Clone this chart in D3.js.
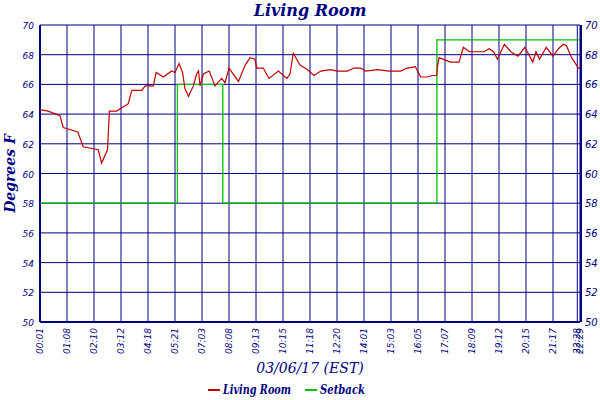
<!DOCTYPE html>
<html><head><meta charset="utf-8">
<script src="https://cdn.jsdelivr.net/npm/d3@7"></script>
<style>body{margin:0;background:#fff}text{font-family:"DejaVu Sans",sans-serif;font-style:italic;fill:#000080}</style>
</head><body><svg id="c" width="600" height="400"></svg>
<script>
const tickLabels=["00:01","01:08","02:10","03:12","04:18","05:21","07:03","08:08","09:13","10:15","11:18","12:20","14:01","15:03","16:05","17:07","18:09","19:12","20:15","21:17","22:28","22:29"];
const tickPos=[0,1,2,3,4,5,6,7,8,9,10,11,12,13,14,15,16,17,18,19,19.9,20];
const yTicks=[50,52,54,56,58,60,62,64,66,68,70];
// sample position (in tick-interval units) and temperature
const roomX=[0,0.3,0.74,0.86,1.4,1.6,2.16,2.28,2.5,2.57,2.84,3.27,3.4,3.77,3.9,4.2,4.3,4.57,4.88,5.0,5.15,5.28,5.37,5.5,5.68,5.8,5.87,5.93,6.05,6.27,6.48,6.73,6.85,7.0,7.35,7.6,7.78,7.96,8.03,8.27,8.48,8.83,9.14,9.26,9.38,9.63,9.9,10.15,10.4,10.77,11.0,11.38,11.63,11.88,12.06,12.5,12.93,13.36,13.6,13.9,14.1,14.35,14.53,14.69,14.72,14.78,15.2,15.52,15.68,15.9,16.45,16.63,16.8,16.94,17.2,17.44,17.7,17.96,18.25,18.37,18.5,18.75,19.0,19.2,19.38,19.5,19.69,19.8,19.94,20.0];
const roomY=[64.3,64.2,63.9,63.1,62.8,61.8,61.6,60.7,61.6,64.2,64.2,64.7,65.6,65.6,65.9,65.9,66.8,66.5,66.9,66.8,67.4,66.8,65.7,65.2,65.9,66.7,66.9,65.9,66.7,66.9,65.9,66.4,66.1,67.1,66.2,67.3,67.8,67.7,67.1,67.1,66.4,66.9,66.4,66.7,68.1,67.3,67.0,66.6,66.9,67.0,66.9,66.9,67.1,67.1,66.9,67.0,66.9,66.9,67.1,67.2,66.5,66.5,66.6,66.6,67.2,67.8,67.5,67.5,68.5,68.2,68.2,68.4,68.2,67.7,68.7,68.2,67.9,68.5,67.5,68.2,67.7,68.5,67.9,68.4,68.7,68.6,67.8,67.5,67.1,67.1];
const setX=[0,5.09,6.77,14.7,20];
const setY=[58,66,58,69,69];

const svg=d3.select("#c");
const L=40,R=580,T=25,B=322;
const x=d3.scaleLinear().domain([0,20]).range([L,R]);
const y=d3.scaleLinear().domain([50,70]).range([B,T]);
const navy="#000080";
const g=svg.append("g");
g.selectAll(".vg").data(tickPos).join("line").attr("x1",d=>x(d)).attr("x2",d=>x(d)).attr("y1",T).attr("y2",B).attr("stroke",navy).attr("stroke-width",1);
g.selectAll(".hg").data(yTicks).join("line").attr("x1",L).attr("x2",R).attr("y1",d=>y(d)).attr("y2",d=>y(d)).attr("stroke",navy).attr("stroke-width",1);
g.append("line").attr("x1",L).attr("x2",L).attr("y1",T).attr("y2",B).attr("stroke",navy).attr("stroke-width",2);
g.append("line").attr("x1",R+1).attr("x2",R+1).attr("y1",T).attr("y2",B).attr("stroke",navy).attr("stroke-width",2);
g.append("line").attr("x1",L).attr("x2",R).attr("y1",B).attr("y2",B).attr("stroke",navy).attr("stroke-width",2);
svg.selectAll(".yl").data(yTicks).join("text").attr("x",L-6).attr("y",d=>y(d)+4).attr("text-anchor","end").attr("font-size",9).text(d=>d);
svg.selectAll(".yr").data(yTicks).join("text").attr("x",R+5).attr("y",d=>y(d)+4).attr("font-size",10).text(d=>d);
svg.selectAll(".xl").data(tickPos).join("text").attr("transform",(d,i)=>`translate(${x(d)+3},${B+6}) rotate(-90)`).attr("text-anchor","end").attr("font-size",9).text((d,i)=>tickLabels[i]);
svg.append("path").datum(setX.map((d,i)=>[d,setY[i]])).attr("fill","none").attr("stroke","#00c000").attr("stroke-width",1.3)
 .attr("d",d3.line().x(d=>x(d[0])).y(d=>y(d[1])).curve(d3.curveStepAfter));
svg.append("path").datum(roomX.map((d,i)=>[d,roomY[i]])).attr("fill","none").attr("stroke","#c00000").attr("stroke-width",1.2)
 .attr("d",d3.line().x(d=>x(d[0])).y(d=>y(d[1])));
const ser='"DejaVu Serif",serif';
svg.append("text").attr("x",310).attr("y",16).attr("text-anchor","middle").attr("font-size",16).attr("font-weight","bold").style("font-family",ser).text("Living Room");
svg.append("text").attr("transform",`translate(15,${(T+B)/2}) rotate(-90)`).attr("text-anchor","middle").attr("font-size",14).attr("font-weight","bold").style("font-family",ser).text("Degrees F");
svg.append("text").attr("x",310).attr("y",373).attr("text-anchor","middle").attr("font-size",14).style("font-family",ser).text("03/06/17 (EST)");
const leg=[["Living Room","#c00000",208,68],["Setback","#00c000",305,45]];
leg.forEach(([t,c,lx,w])=>{svg.append("line").attr("x1",lx).attr("x2",lx+12).attr("y1",390).attr("y2",390).attr("stroke",c).attr("stroke-width",2);
 svg.append("text").attr("x",lx+15).attr("y",394).attr("font-size",12).attr("font-weight","bold").attr("textLength",w).attr("lengthAdjust","spacingAndGlyphs").style("font-family",ser).text(t);});
</script></body></html>
